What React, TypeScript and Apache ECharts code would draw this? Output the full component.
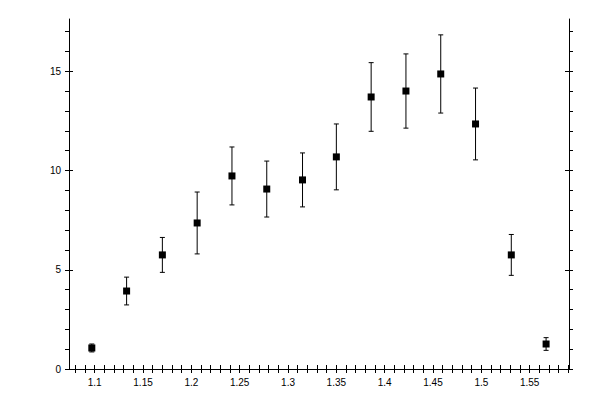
import React, { useEffect, useRef } from "react";
import * as echarts from "echarts";

const xValues = [1.097, 1.133, 1.170, 1.206, 1.242, 1.278, 1.315, 1.350, 1.386, 1.422, 1.458, 1.494, 1.531, 1.567];
const yValues = [1.06, 3.93, 5.75, 7.36, 9.73, 9.07, 9.53, 10.69, 13.71, 14.01, 14.87, 12.35, 5.75, 1.26];
const yErrors = [0.2, 0.7, 0.88, 1.56, 1.46, 1.41, 1.36, 1.66, 1.73, 1.87, 1.97, 1.81, 1.03, 0.32];

// major tick positions
const xTicks = [1.1, 1.15, 1.2, 1.25, 1.3, 1.35, 1.4, 1.45, 1.5, 1.55];
const yTicks = [0, 5, 10, 15];

const X_MIN = 1.0734;
const X_MAX = 1.5907;
const Y_MIN = 0;
const Y_MAX = 17.64;

const font = { fontFamily: "Liberation Sans", fontSize: 10, color: "#000" };
const black = { color: "#000", width: 1 };

const makeXAxis = (position: string, main: boolean, labels: boolean) => ({
  type: "value",
  position,
  min: X_MIN,
  max: X_MAX,
  splitNumber: 10,
  axisLine: { show: main, lineStyle: black },
  axisTick: { show: true, inside: !main, length: 4, lineStyle: black, customValues: xTicks },
  minorTick: { show: main, splitNumber: 5, length: 4, lineStyle: black },
  axisLabel: { show: labels, margin: 8, customValues: xTicks, ...font },
  splitLine: { show: false },
  minorSplitLine: { show: false },
});

const makeYAxis = (position: string, main: boolean, labels: boolean) => ({
  type: "value",
  position,
  min: Y_MIN,
  max: Y_MAX,
  splitNumber: 4,
  axisLine: { show: main, lineStyle: black },
  axisTick: { show: true, inside: !main, length: 4, lineStyle: black, customValues: yTicks },
  minorTick: { show: main, splitNumber: 5, length: 4, lineStyle: black },
  axisLabel: { show: labels, margin: 8, customValues: yTicks, ...font },
  splitLine: { show: false },
  minorSplitLine: { show: false },
});

const App = () => {
  const chartRef = useRef<HTMLDivElement>(null);

  useEffect(() => {
    if (!chartRef.current) return;
    const chart = echarts.init(chartRef.current, undefined, { renderer: "svg" });

    const points = xValues.map((x, i) => [x, yValues[i]]);
    const errData = xValues.map((x, i) => [x, yValues[i] - yErrors[i], yValues[i] + yErrors[i]]);

    chart.setOption({
      animation: false,
      backgroundColor: "#fff",
      grid: { left: 69, right: 31, top: 19, bottom: 31, containLabel: false },
      xAxis: [
        makeXAxis("bottom", true, true),
        makeXAxis("bottom", false, false),
        makeXAxis("top", true, false),
        makeXAxis("top", false, false),
      ],
      yAxis: [
        makeYAxis("left", true, true),
        makeYAxis("left", false, false),
        makeYAxis("right", true, false),
        makeYAxis("right", false, false),
      ],
      series: [
        {
          type: "custom",
          xAxisIndex: 0,
          yAxisIndex: 0,
          data: errData,
          renderItem: (params: any, api: any) => {
            const lo = api.coord([api.value(0), api.value(1)]);
            const hi = api.coord([api.value(0), api.value(2)]);
            const half = 2.5;
            const style = { stroke: "#000", lineWidth: 1 };
            return {
              type: "group",
              children: [
                { type: "line", shape: { x1: lo[0], y1: lo[1], x2: hi[0], y2: hi[1] }, style },
                { type: "line", shape: { x1: lo[0] - half, y1: lo[1], x2: lo[0] + half, y2: lo[1] }, style },
                { type: "line", shape: { x1: hi[0] - half, y1: hi[1], x2: hi[0] + half, y2: hi[1] }, style },
              ],
            };
          },
          z: 2,
        },
        {
          type: "scatter",
          xAxisIndex: 0,
          yAxisIndex: 0,
          data: points,
          symbol: "rect",
          symbolSize: 7,
          itemStyle: { color: "#000", opacity: 1 },
          z: 3,
        },
      ],
    });

    return () => {
      chart.dispose();
    };
  }, []);

  return (
    <div
      ref={chartRef}
      style={{ position: "fixed", left: 0, top: 0, width: 600, height: 400 }}
    />
  );
};

export default App;
